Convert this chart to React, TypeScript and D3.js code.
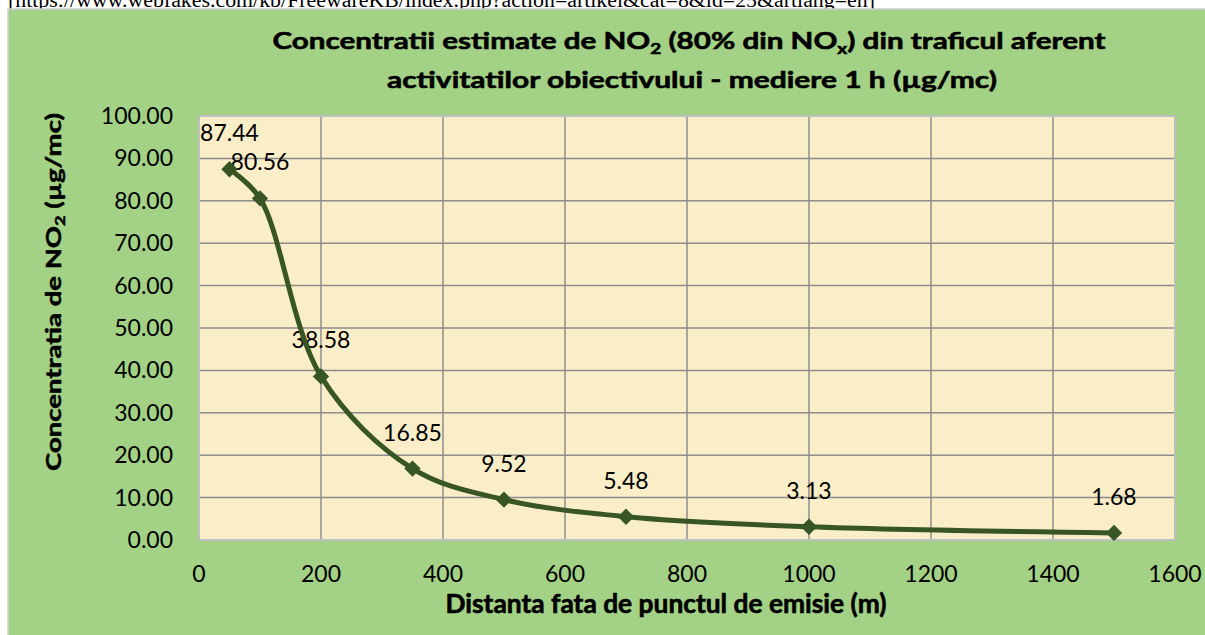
import React from "react";
import * as d3 from "d3";

const distances = [50, 100, 200, 350, 500, 700, 1000, 1500];
const concentrations = [87.44, 80.56, 38.58, 16.85, 9.52, 5.48, 3.13, 1.68];
const xTickValues = [0, 200, 400, 600, 800, 1000, 1200, 1400, 1600];
const yTickValues = [0, 10, 20, 30, 40, 50, 60, 70, 80, 90, 100];
const urlText = "[https://www.webfakes.com/kb/FreewareKB/index.php?action=artikel&cat=8&id=25&artlang=en]";

const W = 1205;
const H = 635;
const plot = { left: 199, right: 1175, top: 116, bottom: 540 };
const FONT = "Lato, 'Open Sans', sans-serif";
const GREEN_BG = "#a3d185";
const PLOT_BG = "#faeec9";
const LINE = "#375623";

export default function App() {
  const x = d3.scaleLinear().domain([0, 1600]).range([plot.left, plot.right]);
  const y = d3.scaleLinear().domain([0, 100]).range([plot.bottom, plot.top]);
  const pts = distances.map((d, i) => [x(d), y(concentrations[i])] as [number, number]);
  const line = d3.line().curve(d3.curveCatmullRom.alpha(0.5))(pts) || "";
  const diamond = d3.symbol().type(d3.symbolDiamond2).size(170)() || "";

  return (
    <svg
      width={W}
      height={H}
      style={{ position: "fixed", left: 0, top: 0, background: "#ffffff" }}
    >
      <text
        x={8}
        y={7}
        fontFamily="'Liberation Serif', 'Times New Roman', serif"
        fontSize={20}
        textLength={867}
        lengthAdjust="spacingAndGlyphs"
        fill="#000"
      >
        {urlText}
      </text>
      <rect x={8} y={9} width={W} height={H} fill={GREEN_BG} stroke="#d0d0d0" strokeWidth={1.5} />

      {/* Title */}
      <text
        x={689}
        y={49}
        textAnchor="middle"
        fontFamily={FONT}
        fontWeight="bold"
        fontSize={23.5}
        textLength={833}
        lengthAdjust="spacingAndGlyphs"
        fill="#000"
        stroke="#000"
        strokeWidth={0.6}
      >
        Concentratii estimate de NO
        <tspan fontSize={15} dy={5}>2</tspan>
        <tspan dy={-5}> (80% din NO</tspan>
        <tspan fontSize={15} dy={5}>x</tspan>
        <tspan dy={-5}>) din traficul aferent</tspan>
      </text>
      <text
        x={692}
        y={88}
        textAnchor="middle"
        fontFamily={FONT}
        fontWeight="bold"
        fontSize={23.5}
        textLength={610}
        lengthAdjust="spacingAndGlyphs"
        fill="#000"
        stroke="#000"
        strokeWidth={0.6}
      >
        activitatilor obiectivului - mediere 1 h (µg/mc)
      </text>

      {/* Plot area */}
      <rect
        x={plot.left}
        y={plot.top}
        width={plot.right - plot.left}
        height={plot.bottom - plot.top}
        fill={PLOT_BG}
      />
      {yTickValues.map((t) => (
        <line
          key={"gy" + t}
          x1={plot.left}
          x2={plot.right}
          y1={y(t)}
          y2={y(t)}
          stroke="#8c8c8c"
          strokeWidth={1.5}
        />
      ))}
      {xTickValues.map((t) => (
        <line
          key={"gx" + t}
          x1={x(t)}
          x2={x(t)}
          y1={plot.top}
          y2={plot.bottom}
          stroke="#8c8c8c"
          strokeWidth={1.5}
        />
      ))}
      <rect
        x={plot.left}
        y={plot.top}
        width={plot.right - plot.left}
        height={plot.bottom - plot.top}
        fill="none"
        stroke="#bfbfbf"
        strokeWidth={2}
      />

      {/* Y tick labels */}
      {yTickValues.map((t) => (
        <text
          key={"ty" + t}
          x={173}
          y={y(t) + 8}
          textAnchor="end"
          fontFamily={FONT}
          fontSize={23}
          fill="#000"
        >
          {t.toFixed(2)}
        </text>
      ))}
      {/* X tick labels */}
      {xTickValues.map((t) => (
        <text
          key={"tx" + t}
          x={x(t)}
          y={582}
          textAnchor="middle"
          fontFamily={FONT}
          fontSize={23}
          fill="#000"
        >
          {t}
        </text>
      ))}

      {/* Axis titles */}
      <text
        transform="translate(61,292) rotate(-90)"
        textAnchor="middle"
        fontFamily={FONT}
        fontWeight="bold"
        fontSize={21}
        textLength={358}
        lengthAdjust="spacingAndGlyphs"
        fill="#000"
        stroke="#000"
        strokeWidth={0.5}
      >
        Concentratia de  NO
        <tspan fontSize={14} dy={4}>2</tspan>
        <tspan dy={-4}> (µg/mc)</tspan>
      </text>
      <text
        x={666}
        y={613}
        textAnchor="middle"
        fontFamily={FONT}
        fontWeight="bold"
        fontSize={26}
        textLength={441}
        lengthAdjust="spacingAndGlyphs"
        fill="#000"
        stroke="#000"
        strokeWidth={0.6}
      >
        Distanta fata de punctul de emisie (m)
      </text>

      {/* Data labels (behind the series) */}
      {pts.map(([px, py], i) => (
        <text
          key={"dl" + i}
          x={px}
          y={py - 28}
          textAnchor="middle"
          fontFamily={FONT}
          fontSize={23}
          fill="#000"
        >
          {concentrations[i].toFixed(2)}
        </text>
      ))}

      {/* Series */}
      <path d={line} fill="none" stroke={LINE} strokeWidth={5} strokeLinejoin="round" />
      {pts.map(([px, py], i) => (
        <path key={"m" + i} d={diamond} transform={`translate(${px},${py})`} fill={LINE} />
      ))}
    </svg>
  );
}
